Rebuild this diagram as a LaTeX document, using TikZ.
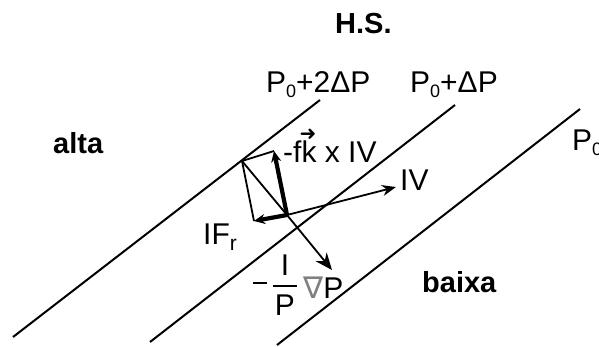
\documentclass[tikz,border=0pt]{standalone}
\usepackage{fontspec}
\setmainfont{Liberation Sans}
\newfontfamily\djv{DejaVu Sans}
\usetikzlibrary{arrows.meta}
\newcommand\mysub[1]{\raisebox{-5pt}{\fontsize{18}{18}\selectfont #1}}
\newcommand\myveck{\makebox[0pt][l]{\raisebox{22pt}{\kern-2pt\fontsize{20}{20}\selectfont\djv ➜}}k}
\begin{document}
\begin{tikzpicture}[x=1pt,y=-1pt,
  isobar/.style={line width=2pt},
  lbl/.style={inner sep=0pt,font=\fontsize{30}{32}\selectfont},
  blbl/.style={inner sep=0pt,font=\fontsize{29}{32}\selectfont\bfseries},
  thinvec/.style={line width=1.8pt,-{Stealth[length=14pt,width=11pt]}},
  bigvec/.style={line width=1.8pt,-{Stealth[length=17pt,width=14pt]}},
  thickvec/.style={line width=4.2pt,-{Stealth[length=11pt,width=10pt]}},
  side/.style={line width=1.8pt}]
\useasboundingbox (0,0) rectangle (599,346);
% isobars
\coordinate (a1) at (13,337);  \coordinate (b1) at (320,100);
\coordinate (a2) at (150,342); \coordinate (b2) at (455,105);
\coordinate (a3) at (277,345); \coordinate (b3) at (580,109);
\draw[isobar] (a1) -- (b1);
\draw[isobar] (a2) -- (b2);
\draw[isobar] (a3) -- (b3);
% labels
\node[blbl,anchor=base west] (hs) at (335,33) {H.S.};
\node[lbl,anchor=base west] (p2) at (266,92) {P\mysub{0}+2ΔP};
\node[lbl,anchor=base west] (p1) at (410,92) {P\mysub{0}+ΔP};
\node[lbl,anchor=base west] (p0) at (572,150) {P\mysub{0}};
\node[blbl,anchor=base west] (alta) at (53,153) {alta};
\node[blbl,anchor=base west] (baixa) at (422,292) {baixa};
% vectors
\coordinate (O) at (287,215);
\coordinate (Vt) at (396,187);
\coordinate (Ct) at (274,151);
\coordinate (Ft) at (254,221);
\coordinate (K) at (242,161);
\coordinate (Gt) at (332,270);
\draw[side] (Ct) -- (K) -- (Ft);
\draw[side] (K) -- (O);
\draw[thinvec] (O) -- (Vt);
\draw[bigvec] (O) -- (Gt);
\draw[thickvec] (O) -- (Ct);
\draw[thickvec] (O) -- (Ft);
\node[lbl,anchor=base west] (vl) at (400,190) {IV};
\node[lbl,anchor=base west] (cl) at (283,162) {-f\myveck\ x IV};
\node[lbl,anchor=base west] (fl) at (203,244) {IF\raisebox{-6pt}{\fontsize{21}{21}\selectfont r}};
\node[inner sep=0pt] (mn) at (260,283) {\rule{14pt}{2.5pt}};
\node[lbl] (fr) at (285,285) {$\displaystyle{\hbox{I}\above 2.5pt \hbox{\kern2pt P\kern2pt}}$};
\node[lbl,anchor=base west] (gp) at (303,298) {{\color{gray}\djv ∇}P};
\end{tikzpicture}
\end{document}
